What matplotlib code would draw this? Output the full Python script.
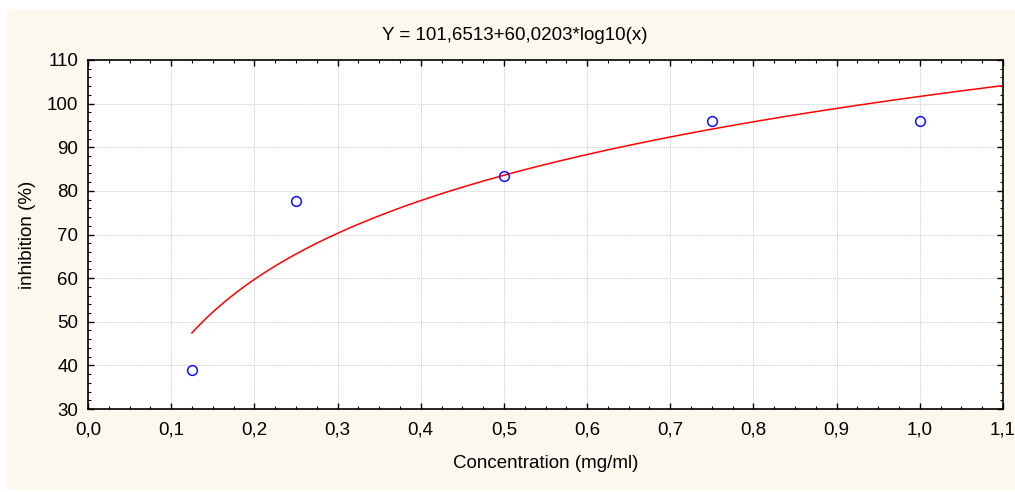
import numpy as np
import matplotlib
matplotlib.use("Agg")
import matplotlib.pyplot as plt
from matplotlib.patches import Rectangle
from matplotlib.ticker import MultipleLocator, FuncFormatter

plt.rcParams['font.family'] = ['Liberation Sans', 'DejaVu Sans']

# Measured inhibition at each concentration
concentration = [0.125, 0.25, 0.5, 0.75, 1.0]
inhibition = [38.9, 77.7, 83.4, 96.0, 96.0]

# Logarithmic fit Y = a + b*log10(x)
fit_a = 101.6513
fit_b = 60.0203
fit_x_range = (0.125, 1.1)

x_ticks = [0.0, 0.1, 0.2, 0.3, 0.4, 0.5, 0.6, 0.7, 0.8, 0.9, 1.0, 1.1]
y_ticks = [30, 40, 50, 60, 70, 80, 90, 100, 110]

FS = 13.5
W, H = 1015, 492
fig = plt.figure(figsize=(W / 100, H / 100), dpi=100, facecolor='white')
fig.patches.append(Rectangle((7 / W, 2 / H), (W - 7) / W, (H - 12) / H,
                             transform=fig.transFigure, facecolor='#fcf8ee',
                             edgecolor='none', zorder=-10))

ax = fig.add_axes([88 / W, 1 - 409 / H, (1003 - 88) / W, (409 - 60) / H])
ax.set_zorder(5)
ax.set_facecolor('white')

xf = np.linspace(fit_x_range[0], fit_x_range[1], 300)
ax.plot(xf, fit_a + fit_b * np.log10(xf), color='#ff0000', lw=1.1, zorder=3)
ax.plot(concentration, inhibition, linestyle='none', marker='o', ms=7,
        mfc='none', mec='#1010ff', mew=1.1, zorder=4)

ax.set_xlim(0.0, 1.1)
ax.set_ylim(30, 110)
ax.set_xticks(x_ticks)
ax.set_yticks(y_ticks)
ax.xaxis.set_minor_locator(MultipleLocator(0.025))
ax.yaxis.set_minor_locator(MultipleLocator(2))
ax.xaxis.set_major_formatter(FuncFormatter(lambda v, p: f"{v:.1f}".replace('.', ',')))
ax.yaxis.set_major_formatter(FuncFormatter(lambda v, p: f"{v:.0f}"))

ax.tick_params(which='both', direction='in', top=True, right=True,
               labelsize=FS, colors='black')
ax.tick_params(axis='x', which='major', pad=9)
ax.tick_params(axis='y', which='major', pad=7)
ax.tick_params(which='major', length=4, width=1)
ax.tick_params(which='minor', length=2.5, width=0.8)

ax.grid(True, which='major', color='#cccccc', linestyle=(0, (1, 1)), lw=0.7)
for s in ax.spines.values():
    s.set_color('black')
    s.set_linewidth(1.2)

fig.text(515 / W, 1 - 35 / H, "Y = 101,6513+60,0203*log10(x)", fontsize=FS,
         ha='center', va='center')
ax.set_xlabel("Concentration (mg/ml)", fontsize=FS, labelpad=12)
ax.set_ylabel("inhibition (%)", fontsize=FS, labelpad=8)

fig.savefig("out.png", dpi=100, facecolor=fig.get_facecolor())
